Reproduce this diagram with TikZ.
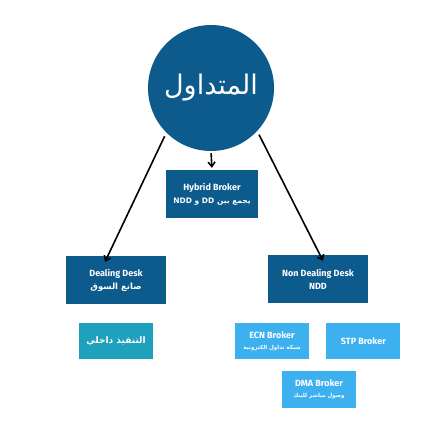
\documentclass[tikz,border=0pt]{standalone}
\usepackage{fontspec}
\setmainfont{Fira Sans}
\newfontfamily\arabicfont[Script=Arabic]{DejaVu Sans}
\TeXXeTstate=1
\usetikzlibrary{arrows.meta,positioning,calc}
\definecolor{deskblue}{HTML}{0D5A8C}
\definecolor{innerteal}{HTML}{1FA0BD}
\definecolor{brokerblue}{HTML}{3DB0F0}

\begin{document}
\begin{tikzpicture}[x=1pt, y=-1pt,
        desk/.style={fill=deskblue, text=white, align=center, inner sep=2pt,
            minimum width=100pt, minimum height=48pt,
            font=\bfseries\fontsize{9}{13}\selectfont},
        broker/.style={fill=brokerblue, text=white, align=center, inner sep=2pt,
            minimum width=74pt, minimum height=36pt,
            font=\bfseries\fontsize{9}{11}\selectfont},
        arrow/.style={-{Straight Barb[length=4.5pt, width=7pt]}, line width=1.6pt, black}]

        \useasboundingbox[fill=white] (0,0) rectangle (430,430);

        % top of the tree
        \node[circle, fill=deskblue, text=white, minimum size=126pt, inner sep=0pt,
            font=\arabicfont\fontsize{27}{30}\selectfont] (trading) at (211,88) {\beginR المتداول\endR};

        \node[desk, minimum width=92pt] (hybrid) at (212,194)
            {Hybrid Broker\\{\arabicfont\fontsize{7.5}{10}\selectfont\beginR يجمع بين DD و NDD\endR}};
        \node[desk] (dd) at (116,280)
            {Dealing Desk\\{\arabicfont\fontsize{8.5}{11}\selectfont\beginR صانع السوق\endR}};
        \node[desk] (ndd) at (318,279) {Non Dealing Desk\\NDD};

        % lower boxes
        \node[broker, fill=innerteal, below=19pt of dd,
            font=\arabicfont\bfseries\fontsize{9}{11}\selectfont] (internal) {\beginR التنفيذ داخلي\endR};
        \node[broker] (ecn) at (272,341)
            {ECN Broker\\{\arabicfont\fontsize{5.5}{8}\selectfont\beginR شبكة تداول الكترونية\endR}};
        \node[broker, right=17pt of ecn] (stp) {STP Broker};
        \node[broker, minimum height=37pt] (dma) at (319,389.5)
            {DMA Broker\\{\arabicfont\fontsize{5.5}{8}\selectfont\beginR وصول مباشر للبنك\endR}};

        \draw[arrow, shorten <=2pt, shorten >=2pt] (trading.south) -- (hybrid.north);
        \draw[arrow, shorten <=4pt] (trading.225) -- ([xshift=-11pt, yshift=-6pt]dd.north);
        \draw[arrow, shorten <=4pt] (trading.317) -- ([xshift=5pt, yshift=-6pt]ndd.north);
\end{tikzpicture}
\end{document}
